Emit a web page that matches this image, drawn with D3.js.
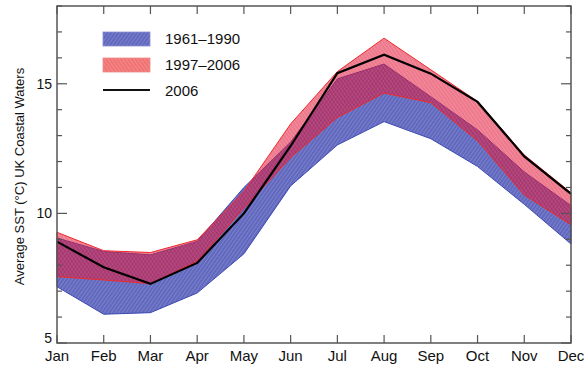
<!DOCTYPE html>
<html><head><meta charset="utf-8">
<script src="https://cdn.jsdelivr.net/npm/d3@7"></script>
<style>body{margin:0;background:#fff}svg{display:block;font-family:"Liberation Sans",Arial,sans-serif}</style>
</head><body><svg id="c" width="584" height="367"></svg>
<script>
const months = ["Jan","Feb","Mar","Apr","May","Jun","Jul","Aug","Sep","Oct","Nov","Dec"];
const blueTop    = [9.05, 8.53, 8.40, 8.92, 11.0, 12.75, 15.19, 15.76, 14.5, 13.22, 11.6, 10.3];
const blueBottom = [7.17, 6.11, 6.17, 6.93, 8.44, 11.06, 12.64, 13.54, 12.88, 11.81, 10.35, 8.82];
const redTop     = [9.27, 8.56, 8.49, 8.98, 10.85, 13.45, 15.47, 16.76, 15.54, 14.32, 12.25, 10.8];
const redBottom  = [7.56, 7.43, 7.29, 8.15, 10.2, 12.15, 13.7, 14.64, 14.27, 12.8, 10.71, 9.56];
const line2006   = [8.91, 7.92, 7.28, 8.09, 10.0, 12.6, 15.41, 16.12, 15.39, 14.3, 12.2, 10.75];
const yMajor = [5, 10, 15];
const legendLabels = ["1961\u20131990", "1997\u20132006", "2006"];

const svg = d3.select("#c");
const L = 57, R = 571, T = 6, B = 343;
const x = d3.scalePoint().domain(months).range([L, R]);
const y = d3.scaleLinear().domain([5, 18]).range([B, T]);

const defs = svg.append("defs");
function hatch(id, bg, stripe, angle) {
  const p = defs.append("pattern").attr("id", id).attr("patternUnits", "userSpaceOnUse")
    .attr("width", 3).attr("height", 3).attr("patternTransform", `rotate(${angle})`);
  p.append("rect").attr("width", 3).attr("height", 3).attr("fill", bg);
  p.append("rect").attr("width", 0.8).attr("height", 3).attr("fill", stripe);
}
hatch("hb", "#6168bd", "#7f86cf", 35);
hatch("hr", "#e01032", "#e83a58", -35);
hatch("lb", "#6168bd", "#7f86cf", 35);
hatch("lr", "#f07272", "#f59090", -35);

const area = (top, bot) => d3.area().x((d, i) => x(months[i])).y0((d, i) => y(bot[i])).y1(d => y(d))(top);

svg.append("path").attr("d", area(blueTop, blueBottom)).attr("fill", "url(#hb)")
  .attr("stroke", "#3d4ab5").attr("stroke-width", 1);
svg.append("path").attr("d", area(redTop, redBottom)).attr("fill", "url(#hr)").attr("fill-opacity", 0.56)
  .attr("stroke", "#ee2a2a").attr("stroke-width", 1);
svg.append("path").attr("d", d3.line().x((d, i) => x(months[i])).y(d => y(d))(line2006))
  .attr("fill", "none").attr("stroke", "#000").attr("stroke-width", 2.2);

// frame
const axisCol = "#555";
svg.append("rect").attr("x", L).attr("y", T).attr("width", R - L).attr("height", B - T)
  .attr("fill", "none").attr("stroke", axisCol).attr("stroke-width", 1.5);

const g = svg.append("g").attr("stroke", axisCol).attr("stroke-width", 1.2);
const allY = d3.range(5, 19);
allY.forEach(v => {
  const len = yMajor.includes(v) ? 10 : 5;
  g.append("line").attr("x1", L).attr("x2", L + len).attr("y1", y(v)).attr("y2", y(v));
  g.append("line").attr("x1", R).attr("x2", R - len).attr("y1", y(v)).attr("y2", y(v));
});
months.forEach(m => {
  g.append("line").attr("x1", x(m)).attr("x2", x(m)).attr("y1", B).attr("y2", B - 8);
  g.append("line").attr("x1", x(m)).attr("x2", x(m)).attr("y1", T).attr("y2", T + 8);
});

svg.append("g").selectAll("text").data(yMajor).join("text")
  .attr("x", L - 5).attr("y", d => Math.min(y(d) + 5, B)).attr("text-anchor", "end")
  .attr("font-size", 14).attr("fill", "#111").text(d => d);
svg.append("g").selectAll("text").data(months).join("text")
  .attr("x", d => x(d)).attr("y", 361).attr("text-anchor", "middle")
  .attr("font-size", 15).attr("fill", "#111").text(d => d);

svg.append("text").attr("transform", `translate(24,${(T + B) / 2 + 2}) rotate(-90)`)
  .attr("text-anchor", "middle").attr("font-size", 13).attr("fill", "#111")
  .text("Average SST (\u00B0C) UK Coastal Waters");

// legend
const lg = svg.append("g");
lg.append("rect").attr("x", 103).attr("y", 32).attr("width", 47).attr("height", 14)
  .attr("fill", "url(#lb)").attr("stroke", "#8a90d0").attr("stroke-width", 0.8);
lg.append("rect").attr("x", 103).attr("y", 58).attr("width", 47).attr("height", 14)
  .attr("fill", "url(#lr)").attr("stroke", "#f08a8a").attr("stroke-width", 0.8);
lg.append("line").attr("x1", 103).attr("x2", 150).attr("y1", 90).attr("y2", 90)
  .attr("stroke", "#111").attr("stroke-width", 2);
lg.selectAll("text").data(legendLabels).join("text")
  .attr("x", 165).attr("y", (d, i) => 44 + i * 26)
  .attr("font-size", 15).attr("fill", "#111").text(d => d);
</script></body></html>
